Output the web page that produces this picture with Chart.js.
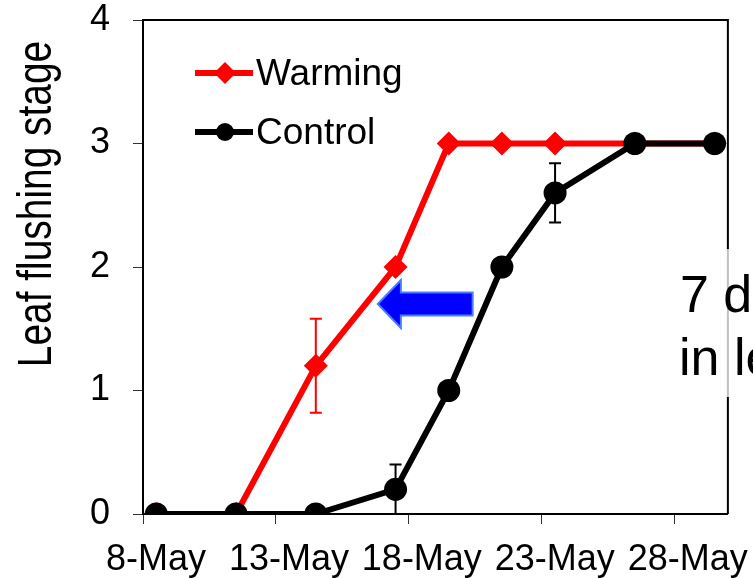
<!DOCTYPE html>
<html>
<head>
<meta charset="utf-8">
<script src="https://cdn.jsdelivr.net/npm/chart.js@4"></script>
<style>body{margin:0;background:#fff}</style>
</head>
<body>
<canvas id="myChart" width="753" height="578"></canvas>
<script>
// sampling dates (all in May) and leaf flushing stage
const dates = ['8-May', '11-May', '14-May', '17-May', '19-May', '21-May', '23-May', '26-May', '29-May'];
const warming = [0, 0, 1.2, 2, 3, 3, 3, 3, 3];
const warmingErr = [0, 0, 0.38, 0, 0, 0, 0, 0, 0];
const control = [0, 0, 0, 0.2, 1, 2, 2.6, 3, 3];
const controlErr = [0, 0, 0, 0.2, 0, 0, 0.24, 0, 0];
const tickLabels = ['8-May', '13-May', '18-May', '23-May', '28-May'];

const FONT = "'Liberation Sans', Arial, sans-serif";
const day = s => parseInt(s) - 8;   // days since 8-May

const extras = {
   id: 'extras',
   afterDatasetsDraw(chart) {
      const ctx = chart.ctx;
      const x = chart.scales.x, y = chart.scales.y;
      const a = chart.chartArea;
      ctx.save();
      // error bars
      [[control, controlErr, '#000'], [warming, warmingErr, '#f00']].forEach(function (s) {
         ctx.strokeStyle = s[2];
         ctx.lineWidth = 2;
         for (let i = 0; i < dates.length; i++) {
            if (!s[1][i]) continue;
            const px = x.getPixelForValue(day(dates[i]));
            const top = y.getPixelForValue(s[0][i] + s[1][i]);
            const bot = y.getPixelForValue(Math.max(0, s[0][i] - s[1][i]));
            ctx.beginPath();
            ctx.moveTo(px, top); ctx.lineTo(px, bot);
            ctx.moveTo(px - 6, top); ctx.lineTo(px + 6, top);
            if (s[0][i] - s[1][i] > 0) { ctx.moveTo(px - 6, bot); ctx.lineTo(px + 6, bot); }
            ctx.stroke();
         }
      });
      // frame top / right
      ctx.strokeStyle = '#000';
      ctx.lineWidth = 2;
      ctx.beginPath();
      ctx.moveTo(a.left, a.top); ctx.lineTo(a.right, a.top); ctx.lineTo(a.right, 249);
      ctx.moveTo(a.right, 397); ctx.lineTo(a.right, a.bottom);
      ctx.stroke();
      ctx.strokeStyle = '#c0c0c0';
      ctx.beginPath();
      ctx.moveTo(a.right, 249); ctx.lineTo(a.right, 397);
      ctx.stroke();

      // blue arrow (shift of flushing)
      const tipX = x.getPixelForValue(8.33), baseX = x.getPixelForValue(9.2), tailX = x.getPixelForValue(11.9);
      const cy = y.getPixelForValue(1.70);
      ctx.beginPath();
      ctx.moveTo(tipX, cy);
      ctx.lineTo(baseX, cy - 24);
      ctx.lineTo(baseX, cy - 11.5);
      ctx.lineTo(tailX, cy - 11.5);
      ctx.lineTo(tailX, cy + 11.5);
      ctx.lineTo(baseX, cy + 11.5);
      ctx.lineTo(baseX, cy + 24);
      ctx.closePath();
      ctx.fillStyle = '#0000ff';
      ctx.fill();
      ctx.strokeStyle = '#4a7dff';
      ctx.lineWidth = 2;
      ctx.stroke();

      // legend
      function item(ly, color, style, label) {
         ctx.strokeStyle = color;
         ctx.fillStyle = color;
         ctx.lineWidth = 6;
         ctx.beginPath();
         ctx.moveTo(195, ly); ctx.lineTo(253, ly);
         ctx.stroke();
         ctx.beginPath();
         if (style === 'diamond') {
            ctx.moveTo(225, ly - 11); ctx.lineTo(236, ly); ctx.lineTo(225, ly + 11); ctx.lineTo(214, ly);
            ctx.closePath();
         } else {
            ctx.arc(225, ly, 9, 0, Math.PI * 2);
         }
         ctx.fill();
         ctx.fillStyle = '#000';
         ctx.font = '37px ' + FONT;
         ctx.textAlign = 'left';
         ctx.textBaseline = 'alphabetic';
         ctx.fillText(label, 256, ly + 12);
      }
      item(73, '#ff0000', 'diamond', 'Warming');
      item(132, '#000', 'circle', 'Control');

      // annotation text (cut at the right edge)
      ctx.fillStyle = '#000';
      ctx.font = '52px ' + FONT;
      ctx.fillText('7 days', 680, 312);
      ctx.fillText('in leaf', 679, 375);

      // y title, narrow like the original
      ctx.save();
      ctx.translate(51, 204);
      ctx.rotate(-Math.PI / 2);
      ctx.scale(0.81, 1);
      ctx.font = '48px ' + FONT;
      ctx.textAlign = 'center';
      ctx.fillText('Leaf flushing stage', 0, 0);
      ctx.restore();
      ctx.restore();
   }
};

new Chart(document.getElementById('myChart'), {
   type: 'line',
   data: {
      datasets: [{
         label: 'Control',
         data: dates.map((d, i) => ({ x: day(d), y: control[i] })),
         borderColor: '#000',
         backgroundColor: '#000',
         borderWidth: 6,
         pointStyle: 'circle',
         pointRadius: 11.5,
         pointBorderWidth: 0,
         tension: 0
      }, {
         label: 'Warming',
         data: dates.map((d, i) => ({ x: day(d), y: warming[i] })),
         borderColor: '#ff0000',
         backgroundColor: '#ff0000',
         borderWidth: 6,
         pointStyle: 'rectRot',
         pointRadius: 12,
         pointBorderWidth: 0,
         tension: 0
      }]
   },
   options: {
      responsive: false,
      animation: false,
      layout: { padding: { top: 0, right: 25, left: 0, bottom: 0 } },
      plugins: {
         legend: { display: false },
         tooltip: { enabled: false }
      },
      scales: {
         x: {
            type: 'linear',
            min: -0.5,
            max: 21.5,
            afterBuildTicks: function (scale) {
               scale.ticks = tickLabels.map(s => ({ value: day(s) - 0.5 }));
            },
            afterFit: function (scale) { scale.height = 64; },
            ticks: {
               callback: function (v, i) { return tickLabels[i]; },
               labelOffset: 13,
               autoSkip: false,
               maxRotation: 0,
               color: '#000',
               padding: 16,
               font: { family: FONT, size: 36, lineHeight: 1.1 }
            },
            grid: { drawOnChartArea: false, tickLength: 10, color: '#333', lineWidth: 1 },
            border: { color: '#000', width: 2 }
         },
         y: {
            min: 0,
            max: 4,
            afterFit: function (scale) {
               scale.width = 143;
               scale.paddingTop = 20;
               scale.paddingBottom = 0;
            },
            ticks: {
               stepSize: 1,
               color: '#000',
               padding: 23,
               font: { family: FONT, size: 36, lineHeight: 1.1 }
            },
            grid: { drawOnChartArea: false, tickLength: 10, color: '#333', lineWidth: 1 },
            border: { color: '#000', width: 2 }
         }
      }
   },
   plugins: [extras]
});
</script>
</body>
</html>
